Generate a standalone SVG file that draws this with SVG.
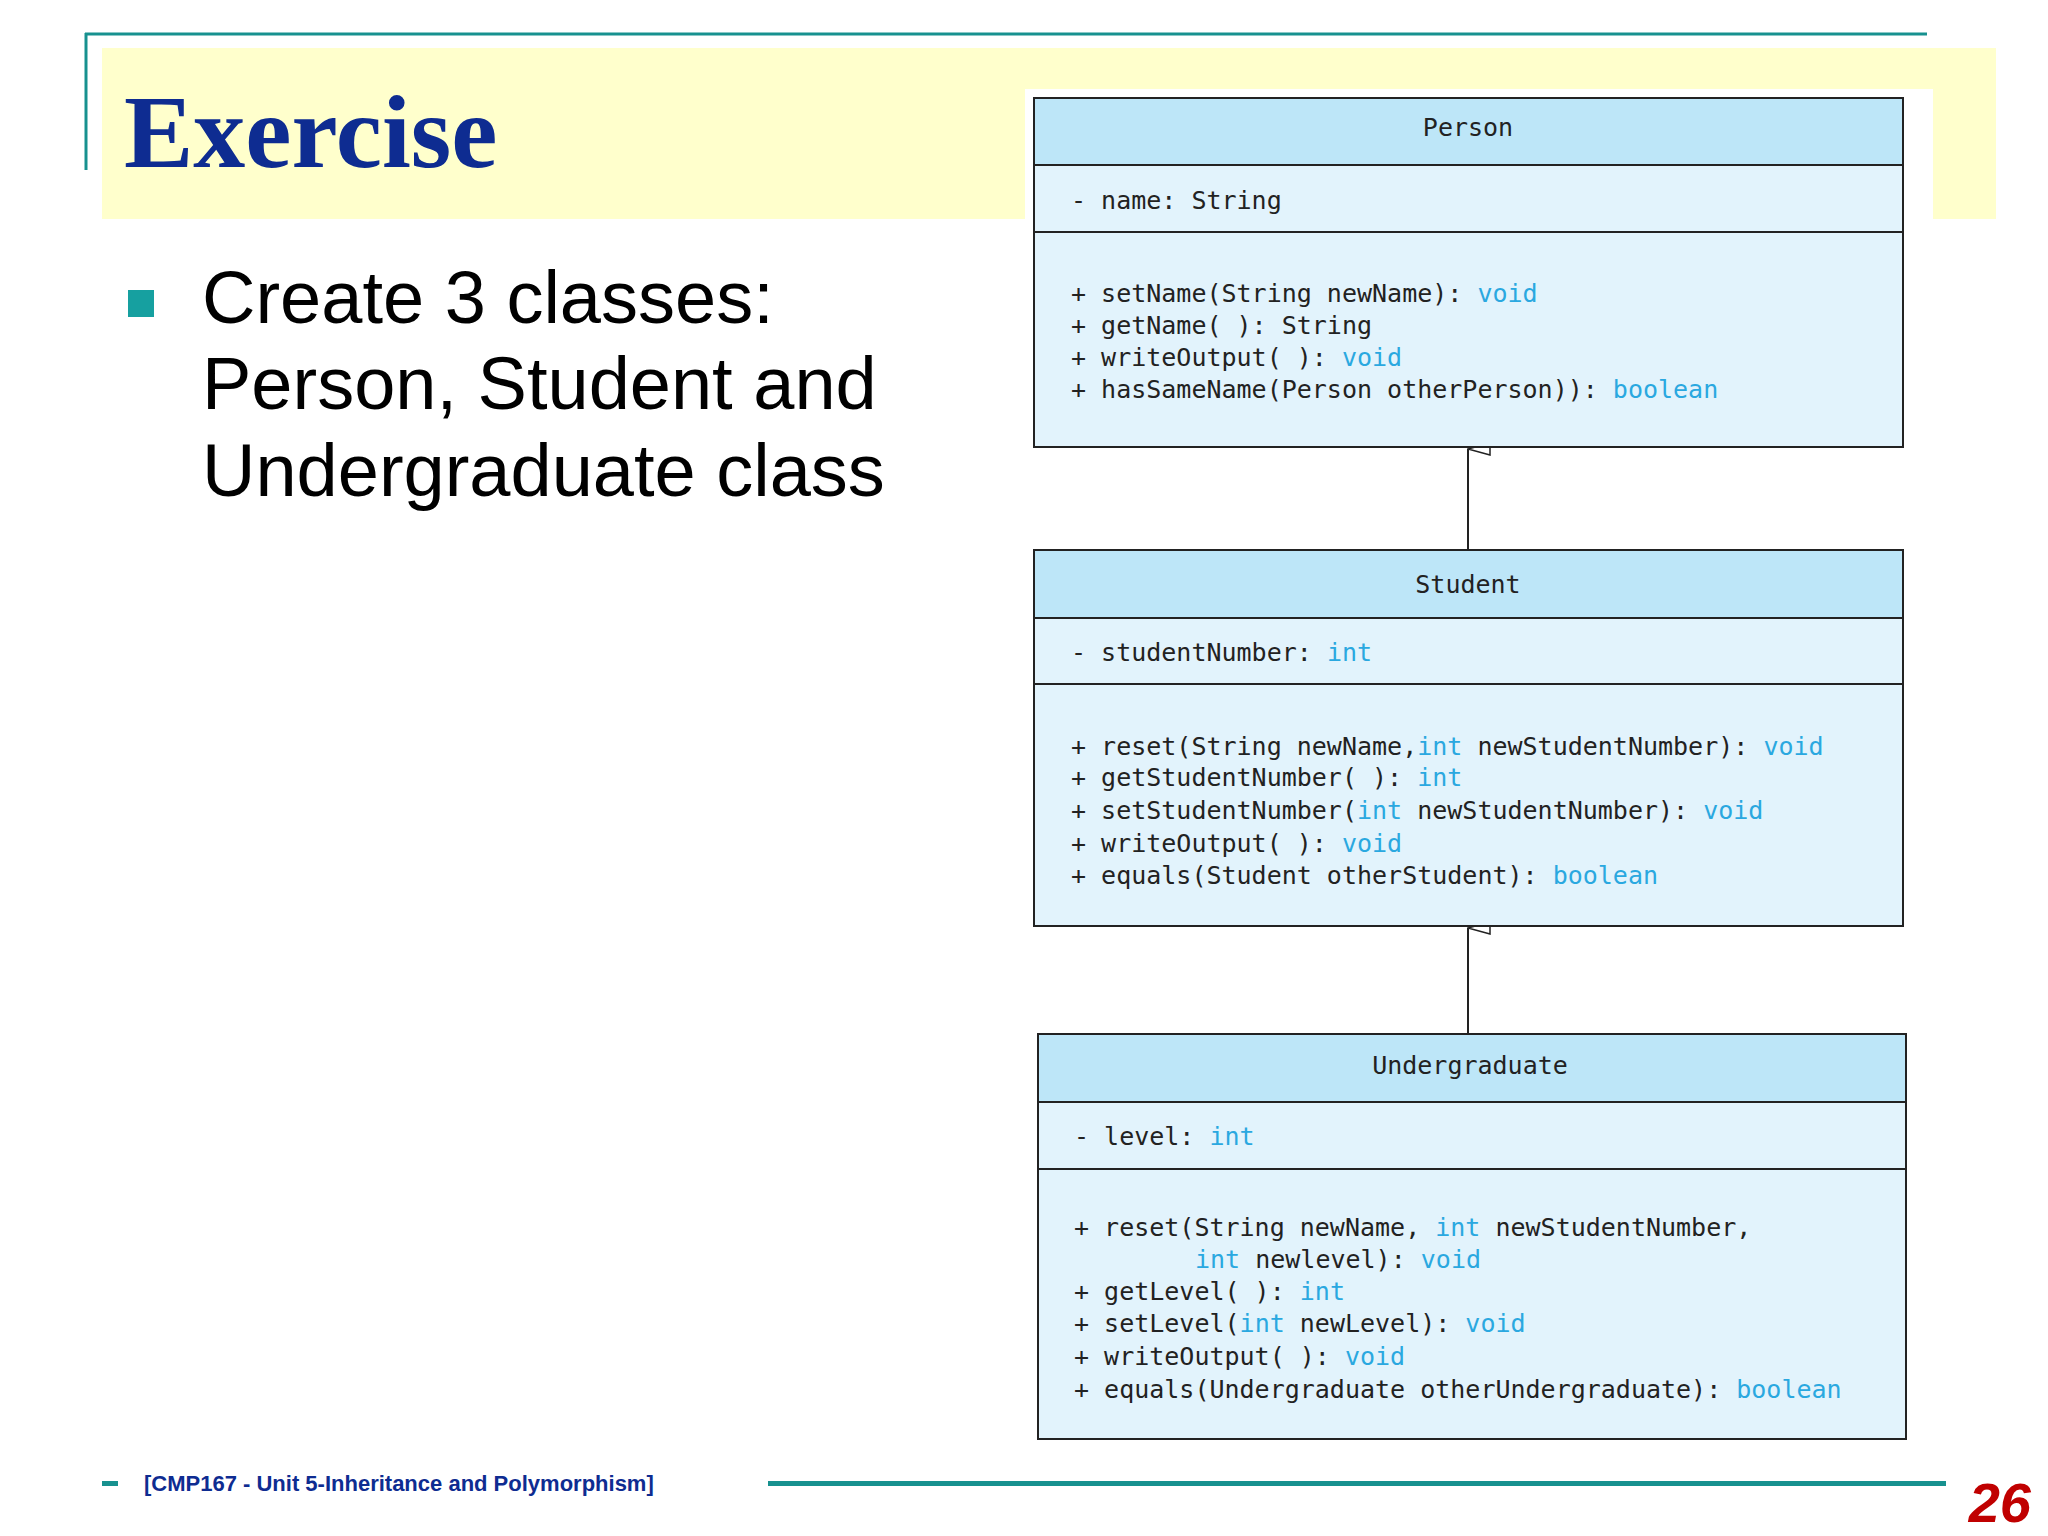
<svg xmlns="http://www.w3.org/2000/svg" width="2048" height="1536" viewBox="0 0 2048 1536">
<defs>
<style>
.hd{fill:#bde6f8;stroke:#222;stroke-width:2}
.bd{fill:#e2f3fc;stroke:#222;stroke-width:2}
.m{font-family:"DejaVu Sans Mono",monospace;font-size:25px;fill:#222}
.t{fill:#2aa8e0}
.b{font-family:"Liberation Sans",Arial,sans-serif;font-size:74px;fill:#000}
</style>
<marker id="tri" markerWidth="14" markerHeight="24" refX="7" refY="1" orient="auto-start-reverse" markerUnits="userSpaceOnUse" viewBox="0 0 14 24">
<path d="M1,23 L7,1 L13,23 Z" fill="#fff" stroke="#222" stroke-width="1.5"/>
</marker>
</defs>
<rect width="2048" height="1536" fill="#fff"/>
<line x1="85" y1="34" x2="1927" y2="34" stroke="#17918f" stroke-width="3"/>
<line x1="86" y1="33" x2="86" y2="170" stroke="#17918f" stroke-width="3"/>
<rect x="102" y="48" width="1894" height="171" fill="#ffffcc"/>
<text x="124" y="167" font-family="Liberation Serif,serif" font-weight="bold" font-size="104" fill="#0e2c91">Exercise</text>
<rect x="128" y="290" width="26" height="27" fill="#16a0a0"/>
<text class="b" x="202" y="323">Create 3 classes:</text>
<text class="b" x="202" y="409">Person, Student and</text>
<text class="b" x="202" y="496">Undergraduate class</text>
<rect x="1025" y="89" width="908" height="1360" fill="#fff"/>
<g id="connectors" stroke="#222" stroke-width="2">
<line x1="1468" y1="550" x2="1468" y2="449" marker-end="url(#tri)"/>
<line x1="1468" y1="1034" x2="1468" y2="928" marker-end="url(#tri)"/>
</g>
<g id="person">
<rect class="hd" x="1034" y="98" width="869" height="67"/>
<rect class="bd" x="1034" y="165" width="869" height="67"/>
<rect class="bd" x="1034" y="232" width="869" height="215"/>
<text class="m" x="1468" y="136" text-anchor="middle">Person</text>
<text class="m" x="1071" y="209">- name: String</text>
<text class="m" x="1071" y="302">+ setName(String newName): <tspan class="t">void</tspan></text>
<text class="m" x="1071" y="334">+ getName( ): String</text>
<text class="m" x="1071" y="366">+ writeOutput( ): <tspan class="t">void</tspan></text>
<text class="m" x="1071" y="398">+ hasSameName(Person otherPerson)): <tspan class="t">boolean</tspan></text>
</g>
<g id="student">
<rect class="hd" x="1034" y="550" width="869" height="68"/>
<rect class="bd" x="1034" y="618" width="869" height="66"/>
<rect class="bd" x="1034" y="684" width="869" height="242"/>
<text class="m" x="1468" y="593" text-anchor="middle">Student</text>
<text class="m" x="1071" y="661">- studentNumber: <tspan class="t">int</tspan></text>
<text class="m" x="1071" y="755">+ reset(String newName,<tspan class="t">int</tspan> newStudentNumber): <tspan class="t">void</tspan></text>
<text class="m" x="1071" y="786">+ getStudentNumber( ): <tspan class="t">int</tspan></text>
<text class="m" x="1071" y="819">+ setStudentNumber(<tspan class="t">int</tspan> newStudentNumber): <tspan class="t">void</tspan></text>
<text class="m" x="1071" y="852">+ writeOutput( ): <tspan class="t">void</tspan></text>
<text class="m" x="1071" y="884">+ equals(Student otherStudent): <tspan class="t">boolean</tspan></text>
</g>
<g id="undergraduate">
<rect class="hd" x="1038" y="1034" width="868" height="68"/>
<rect class="bd" x="1038" y="1102" width="868" height="67"/>
<rect class="bd" x="1038" y="1169" width="868" height="270"/>
<text class="m" x="1470" y="1074" text-anchor="middle">Undergraduate</text>
<text class="m" x="1074" y="1145">- level: <tspan class="t">int</tspan></text>
<text class="m" x="1074" y="1236">+ reset(String newName, <tspan class="t">int</tspan> newStudentNumber,</text>
<text class="m" x="1195" y="1268"><tspan class="t">int</tspan> newlevel): <tspan class="t">void</tspan></text>
<text class="m" x="1074" y="1300">+ getLevel( ): <tspan class="t">int</tspan></text>
<text class="m" x="1074" y="1332">+ setLevel(<tspan class="t">int</tspan> newLevel): <tspan class="t">void</tspan></text>
<text class="m" x="1074" y="1365">+ writeOutput( ): <tspan class="t">void</tspan></text>
<text class="m" x="1074" y="1398">+ equals(Undergraduate otherUndergraduate): <tspan class="t">boolean</tspan></text>
</g>
<rect x="102" y="1481" width="16" height="5" fill="#17918f"/>
<text x="144" y="1491" font-family="Liberation Sans,Arial,sans-serif" font-weight="bold" font-size="22" fill="#0e2c91">[CMP167 - Unit 5-Inheritance and Polymorphism]</text>
<rect x="768" y="1481" width="1178" height="5" fill="#17918f"/>
<text x="2031" y="1522" text-anchor="end" font-family="Liberation Sans,Arial,sans-serif" font-weight="bold" font-style="italic" font-size="56" fill="#c00000">26</text>
</svg>
